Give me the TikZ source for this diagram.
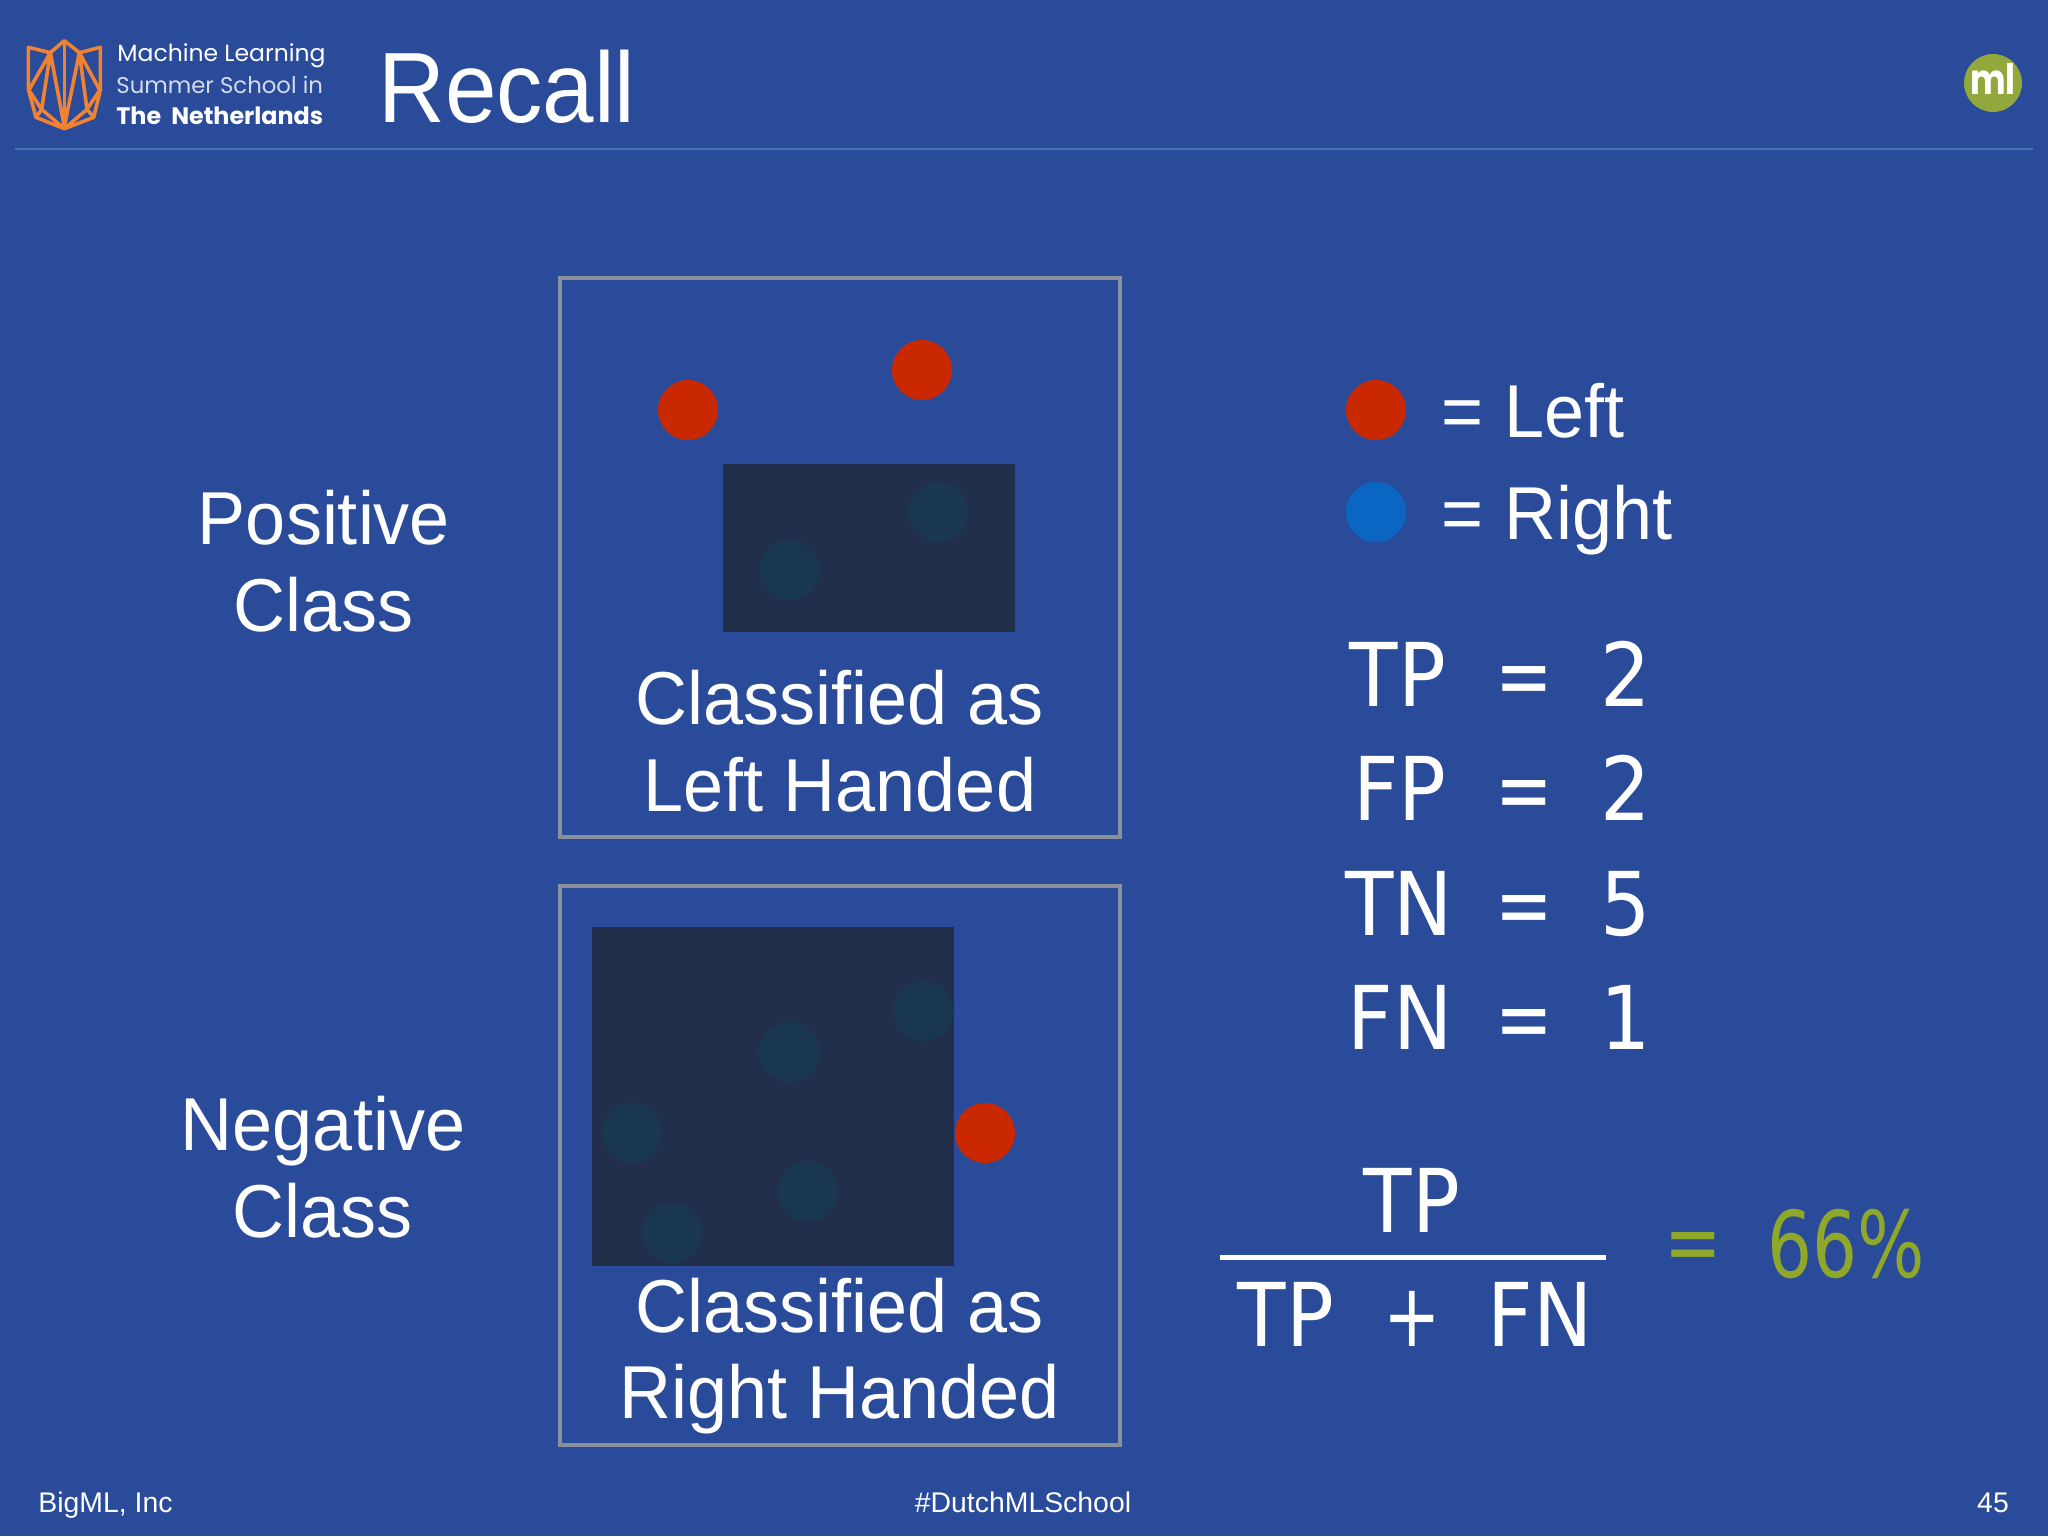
\documentclass[tikz,border=0pt]{standalone}
\usepackage{fontspec}
\setmainfont{Liberation Sans}
\newfontfamily\helv[FakeStretch=0.96]{Liberation Sans}
\newfontfamily\titlef[FakeStretch=0.925]{Liberation Sans}
\newfontfamily\eqf[FakeStretch=0.9]{DejaVu Sans}
\newfontfamily\symf[FakeStretch=0.78]{DejaVu Sans}
\newfontfamily\pctf[FakeStretch=0.77]{DejaVu Sans}
\newfontfamily\popf{Poppins}
\newfontfamily\popn[FakeStretch=0.8]{Poppins}
\newcommand{\fs}[2]{\fontsize{#1}{#2}\selectfont}
\definecolor{bgblue}{HTML}{2A4A9A}
\definecolor{darkbox}{HTML}{212F4B}
\definecolor{dimdot}{HTML}{1A3750}
\definecolor{reddot}{HTML}{C92800}
\definecolor{bluedot}{HTML}{0A66C2}
\definecolor{framegrey}{HTML}{8A8F9C}
\definecolor{mlgreen}{HTML}{93A83C}
\definecolor{resgreen}{HTML}{8FA82A}
\definecolor{rulecol}{HTML}{4A73B0}
\definecolor{logoorange}{HTML}{F08232}
\tikzset{
  lbl/.style={text=white,inner sep=0pt,outer sep=0pt,font=\helv\fs{37.5}{43.3},align=center},
  frm/.style={draw=framegrey,line width=2pt},
  dbox/.style={fill=darkbox},
  dot/.style={circle,minimum size=30pt,inner sep=0pt},
  rdot/.style={dot,fill=reddot},
  bdot/.style={dot,fill=bluedot},
  ddot/.style={dot,fill=dimdot},
  eq/.style={text=white,inner sep=0pt,anchor=base,font=\eqf\fs{44}{44}},
  sym/.style={text=white,inner sep=0pt,anchor=base,font=\symf\fs{44}{44}},
  foot/.style={text=white,inner sep=0pt,anchor=base,font=\fs{14.2}{16}},
  logotxt/.style={text=white,inner sep=0pt,anchor=base west},
  logoline/.style={draw=logoorange,line width=1.8pt,line join=round},
}
\begin{document}
\begin{tikzpicture}[x=0.5pt,y=-0.5pt]
\useasboundingbox (0,0) rectangle (2048,1536);
\fill[bgblue] (0,0) rectangle (2048,1536);
% header
\draw[rulecol,line width=0.7pt] (15,149) -- (2033,149);
% logo
\begin{scope}[shift={(11,30)},x=0.1667pt,y=-0.1667pt]
\draw[logoline] (52,52)--(118,68)--(160,32)--(205,68)--(268,52)--(268,180)--(248,262)--(160,296)--(75,262)--(52,178)--cycle;
\draw[logoline] (160,32)--(160,296);
\draw[logoline] (118,68)--(55,178) (118,68)--(160,290) (118,68)--(92,238)--(160,296) (52,178)--(92,238)--(75,262);
\draw[logoline] (205,68)--(265,178) (205,68)--(160,290) (205,68)--(228,238)--(160,296) (268,178)--(228,238)--(248,262);
\end{scope}
\node[logotxt,font=\popf\fs{11.75}{12}] (mltext) at (117,62) {Machine Learning};
\node[logotxt,font=\popf\fs{11.4}{12},text=white!80!bgblue] (sstext) at (116,94) {Summer School in};
\node[logotxt,font=\popf\bfseries\fs{11.9}{12}] (nltext) at (116,125) {The\ \ Netherlands};
\node[text=white,inner sep=0pt,anchor=base west,font=\titlef\fs{50}{50}] (title) at (378,122) {Recall};
\node[circle,fill=mlgreen,minimum size=29pt,inner sep=0pt] (mlbadge) at (1993,83) {};
\node[text=white,inner sep=0pt,anchor=base,font=\popn\bfseries\fs{21}{21}] (mlb) at (1993,95) {ml};
% frames
\node[frm,draw,minimum width=280pt,minimum height=279.5pt,inner sep=0pt] (posframe) at (840,557.5) {};
\node[frm,draw,minimum width=280pt,minimum height=279.5pt,inner sep=0pt] (negframe) at (840,1165.5) {};
\node[dbox,minimum width=145.75pt,minimum height=84pt,inner sep=0pt] (posbox) at (868.75,548) {};
\node[dbox,minimum width=181pt,minimum height=169.5pt,inner sep=0pt] (negbox) at (773,1096.5) {};
\node[rdot] (r1) at (688,410) {};
\node[rdot] (r2) at (922,370) {};
\node[ddot] (d1) at (938,512) {};
\node[ddot] (d2) at (789.5,570) {};
\node[ddot] (d3) at (923,1011) {};
\node[ddot] (d4) at (789,1052) {};
\node[ddot] (d5) at (632,1133) {};
\node[ddot] (d6) at (808,1191) {};
\node[ddot] (d7) at (672,1233) {};
\node[rdot] (r3) at (985,1133) {};
% labels
\node[lbl] (pc) at (324,561) {Positive\\Class};
\node[lbl] (nc) at (323,1167) {Negative\\Class};
\node[lbl] (cl) at (840,741) {Classified as\\Left Handed};
\node[lbl] (cr) at (840,1356) {Classified as\\Right Handed};
% legend
\node[rdot] (lr) at (1376,410) {};
\node[bdot] (lb) at (1376,512) {};
\node[text=white,inner sep=0pt,anchor=base west,font=\helv\fs{37.5}{38}] (ll) at (1441,437) {=\hspace{0.5pt} Left};
\node[text=white,inner sep=0pt,anchor=base west,font=\helv\fs{37.5}{38}] (lrr) at (1441,539) {=\hspace{0.5pt} Right};
% equations
\node[eq] (a1) at (1398,706) {TP};
\node[sym] (a2) at (1524,706) {=};
\node[eq] (a3) at (1626,706) {2};
\node[eq] (b1) at (1400,820) {FP};
\node[sym] (b2) at (1524,820) {=};
\node[eq] (b3) at (1626,820) {2};
\node[eq] (c1) at (1399,935) {TN};
\node[sym] (c2) at (1524,935) {=};
\node[eq] (c3) at (1626,935) {5};
\node[eq] (e1) at (1400,1049) {FN};
\node[sym] (e2) at (1524,1049) {=};
\node[eq] (e3) at (1626,1049) {1};
% fraction
\node[eq] (ft) at (1412,1232) {TP};
\coordinate (fl) at (1220,1257);
\coordinate (fr) at (1606,1257);
\draw[white,line width=2.5pt] (fl) -- (fr);
\node[eq] (f1) at (1286,1346) {TP};
\node[sym] (f2) at (1412,1346) {+};
\node[eq] (f3) at (1540,1346) {FN};
\node[sym,text=resgreen] (r0) at (1693,1272) {=};
\node[inner sep=0pt,anchor=base,text=resgreen,font=\pctf\fs{46}{46}] (pct) at (1846,1277) {66\%};
% footer
\node[foot,anchor=base west] (fa) at (38,1512) {BigML, Inc};
\node[foot] (fb) at (1023,1512) {\#DutchMLSchool};
\node[foot] (fc) at (1993,1512) {45};
\end{tikzpicture}
\end{document}
